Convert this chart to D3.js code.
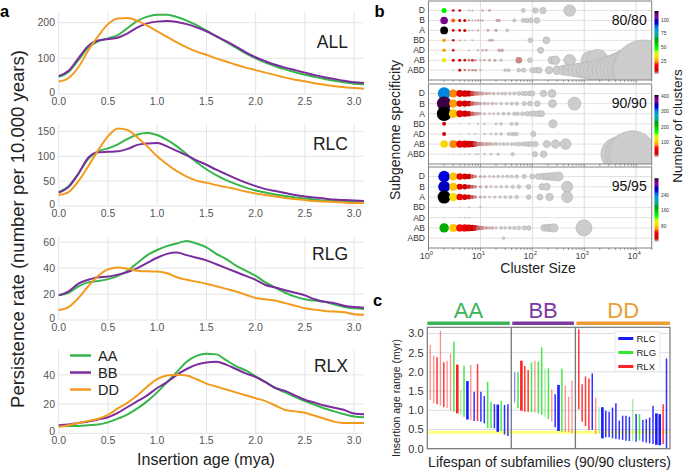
<!DOCTYPE html>
<html><head><meta charset="utf-8">
<script src="https://cdn.jsdelivr.net/npm/d3@7"></script>
<style>body{margin:0;background:#fff}svg{font-family:"Liberation Sans",Arial,sans-serif}</style>
</head><body><svg id="c" width="685" height="472"></svg>
<script>
// ---------------- DATA: panel a ----------------
const ages = [0,0.1,0.2,0.3,0.4,0.5,0.6,0.7,0.8,0.9,1.0,1.1,1.2,1.3,1.4,1.5,1.6,1.7,1.8,1.9,2.0,2.1,2.2,2.3,2.4,2.5,2.6,2.7,2.8,2.9,3.0,3.1];
const genomes = ["AA","BB","DD"];
const families = ["ALL","RLC","RLG","RLX"];
const allAA = [48,62,95,130,148,156,165,185,205,217,222,222,216,206,193,178,162,146,130,114,100,88,78,69,61,54,48,42,37,33,29,27];
const allBB = [50,65,100,135,150,154,158,170,187,198,203,205,202,196,187,176,162,148,133,117,103,92,82,74,67,60,53,47,42,37,33,31];
const allDD = [35,45,75,122,162,196,212,213,205,192,176,160,145,131,119,110,100,91,82,74,67,60,53,46,40,36,30,26,22,19,17,15];
const rlcAA = [28,40,65,95,110,116,124,135,144,147,143,133,120,104,88,74,62,52,44,37,31,27,23,20,17,15,13,11,10,9,8,8];
const rlcBB = [27,38,65,97,108,109,110,115,123,126,127,120,111,102,92,83,73,64,55,47,40,34,30,26,22,19,17,15,13,12,11,10];
const rlcDD = [22,28,50,80,112,140,156,153,138,120,100,84,70,59,51,47,42,38,34,29,25,22,19,16,14,12,10,9,8,7,6,6];
const rlgAA = [19,21,26,29,30,31.5,34,38,44,50,54,57,59,61,59,56,51,47,42,38,34,29,25,21,18,16,15,14,12,10,9,8.5];
const rlgBB = [19,22,28,31,33,33.5,35,37,40,44,48,51,52,50,48,46,43,40,37,34,31,27,25,23,21,19,16,14,13,11,10,9.5];
const rlgDD = [7.7,10,17,26,34,39,40.5,39.5,38,37.5,37.4,36,33,31,29.5,28,26,24,22,19.5,17,16,15,13,11,9,8,7,6.5,6,4.5,4];
const rlxAA = [5,5,5,5.5,6,7.5,10,13,17,22,28,35,42,49,53,54.5,54,50,46,43,39,35,31,28,25,22,19.5,17,15,13,11.5,11];
const rlxBB = [5.5,6,7,8,9.5,11,14,18,22,26,31,35,40,44,47,48.5,49,47,44,41,38.5,35,31,29,26,23,21,19,17.5,16,13.5,13];
const rlxDD = [4.5,5.5,7,8.5,10,12.6,17,21,26,32,37,39.5,40,39.5,37,34,32,30,28,26,24,22,19,16,15,14,12,10,8,7,7,7];
const xTicksA = [0,0.5,1.0,1.5,2.0,2.5,3.0];
const ticksALL = [0,100,200], ticksRLC = [0,50,100,150], ticksRLG = [0,20,40,60], ticksRLX = [0,20,40];
const ymaxA = [230,165,64,57];

// ---------------- DATA: panel b ----------------
const rows = ["D","B","A","BD","AD","AB","ABD"];
const identities = ["80/80","90/90","95/95"];
const cmax = [117,410,325];
const cbTicks80 = [25,50,75,100], cbTicks90 = [100,200,300,400], cbTicks95 = [80,160,240];
const sizeTicks = [1,10,100,1000,10000];
// [cluster size, number of clusters]
const b80D = [[2,50],[3,9],[4,7],[6,2],[7,2],[11,2],[15,2],[67,1],[115,1],[160,1],[525,1]];
const b80B = [[2,110],[3,22],[4,9],[5,7],[6,3],[7,2],[8,2],[9,2],[10,2],[11,2],[21,2],[23,2],[45,1],[67,1],[79,1],[94,1],[123,1]];
const b80A = [[2,117],[3,10],[4,8],[5,7],[6,2],[7,2],[9,2],[14,2],[20,2],[33,1]];
const b80BD = [[2,25],[3,8],[4,3],[5,2],[7,2],[15,2],[17,2],[92,1],[187,1]];
const b80AD = [[2,25],[3,8],[6,2],[9,2],[11,2],[13,2],[23,2],[26,2],[145,1]];
const b80AB = [[2,35],[3,12],[4,10],[5,6],[6,4],[7,5],[8,3],[10,2],[12,2],[15,2],[19,2],[25,1],[55,3],[90,1],[240,1],[280,1],[525,1],[1320,1],[1800,1]];
const b80ABD = [[3,2],[4,8],[5,4],[6,3],[7,3],[8,3],[10,2],[30,1],[35,1],[55,1],[68,1],[100,1],[118,1],[135,1],[210,1],[300,1],[400,1],[500,1],[650,1],[800,1],[1000,1],[1200,1],[1500,1],[1900,1],[2500,1],[3200,1],[4200,1],[5500,1],[7500,1],[11000,1],[14000,1]];
const b90D = [[2,300],[3,80],[4,45],[5,35],[6,25],[7,15],[8,10],[9,8],[10,6],[11,5],[13,4],[15,3],[18,3],[22,2],[26,2],[30,2],[37,1],[45,1],[55,1],[65,1],[75,1],[90,1],[100,1],[165,1],[240,1]];
const b90B = [[2,400],[3,85],[4,40],[5,30],[6,20],[7,12],[8,8],[9,6],[10,5],[12,4],[14,3],[17,3],[20,2],[25,2],[32,1],[40,1],[50,1],[70,1],[90,1],[125,1],[245,1],[650,1]];
const b90A = [[2,410],[3,100],[4,45],[5,30],[6,20],[7,12],[8,8],[9,6],[10,4],[12,3],[15,2],[18,2],[22,2],[28,2],[35,1],[45,1],[52,1],[65,1],[80,1],[95,1],[110,1],[130,1],[150,1]];
const b90BD = [[2,30],[4,2],[6,2],[9,2],[12,1],[20,1],[25,1],[40,1],[50,1],[250,1]];
const b90AD = [[2,30],[4,2],[6,2],[8,2],[12,2],[16,1],[20,1],[25,1],[35,1],[40,1],[45,1],[50,1],[105,1]];
const b90AB = [[2,110],[3,80],[4,50],[5,40],[6,30],[7,22],[8,15],[9,10],[10,8],[11,6],[13,5],[15,4],[17,3],[20,3],[24,2],[28,2],[33,1],[40,1],[47,1],[55,1],[65,1],[75,1],[85,1],[95,1],[115,1],[190,1],[280,1],[440,1]];
const b90ABD = [[3,2],[4,2],[5,2],[6,2],[8,2],[9,2],[12,1],[16,1],[22,1],[42,1],[112,1],[165,1],[4500,1],[6500,1],[8500,1]];
const b95D = [[2,260],[3,80],[4,40],[5,28],[6,18],[7,10],[8,6],[10,4],[12,3],[15,2],[18,2],[22,2],[27,1],[33,1],[40,1],[50,1],[70,1],[100,1],[130,1],[160,1],[190,1],[220,1],[260,1],[320,1]];
const b95B = [[2,270],[3,80],[4,35],[5,22],[6,14],[7,9],[8,6],[10,4],[13,3],[16,2],[20,2],[25,1],[32,1],[42,1],[55,1],[85,1],[155,1],[190,1],[470,1]];
const b95A = [[2,325],[3,90],[4,40],[5,26],[6,16],[7,10],[8,6],[10,4],[12,3],[15,2],[19,2],[24,1],[30,1],[38,1],[50,1],[85,1],[140,1],[215,1],[470,1]];
const b95BD = [[4,2],[6,1],[10,1]];
const b95AD = [[2,3],[4,2],[5,2],[6,1]];
const b95AB = [[2,170],[3,80],[4,50],[5,40],[6,30],[7,22],[8,15],[9,10],[10,8],[11,6],[13,4],[15,3],[17,3],[20,2],[25,2],[30,1],[37,1],[45,1],[55,1],[70,1],[85,1],[170,1],[200,1],[230,1],[260,1],[990,1]];
const b95ABD = [[28,1]];

// ---------------- DATA: panel c ----------------
const groupsC = ["AA","BB","DD"];
const typesC = ["RLC","RLG","RLX"];
const yTicksC = [0,0.5,1.0,1.5,2.0,2.5,3.0];
const threshold = 0.43;
// [superfamily, lowest age, highest age, support (1 low, 2 mid, 3 high)]
const barsAA = [["RLX",1.27,2.70,1],["RLX",1.18,2.42,1],["RLX",1.16,2.38,2],["RLX",1.12,3.07,1],["RLX",1.08,2.25,2],["RLX",1.05,2.29,1],["RLX",0.99,2.48,1],["RLG",0.96,2.79,2],["RLX",0.92,2.19,3],["RLG",0.88,1.53,1],["RLG",0.83,2.16,2],["RLC",0.76,1.76,3],["RLX",0.75,2.18,1],["RLC",0.72,1.48,2],["RLX",0.72,2.20,2],["RLC",0.70,1.48,2],["RLC",0.66,1.37,2],["RLG",0.54,1.74,2],["RLG",0.53,1.22,2],["RLC",0.53,1.16,2],["RLC",0.44,1.15,3],["RLG",0.46,1.25,2],["RLC",0.37,1.14,2],["RLC",0.33,1.16,2]];
const barsBB = [["RLC",1.20,1.99,1],["RLG",1.05,1.99,2],["RLX",0.99,2.29,3],["RLX",0.96,2.15,2],["RLX",0.96,2.05,2],["RLG",0.95,2.25,2],["RLX",0.94,2.29,1],["RLG",0.92,2.27,2],["RLG",0.88,2.64,2],["RLG",0.83,2.08,1],["RLG",0.77,2.09,2],["RLX",0.70,1.55,1],["RLC",0.56,1.42,2],["RLC",0.46,1.66,3],["RLG",0.44,2.08,2],["RLX",0.43,1.64,1],["RLX",0.43,1.35,1],["RLX",0.40,1.77,1]];
const barsDD = [["RLX",1.03,3.11,2],["RLX",0.70,1.68,2],["RLX",0.59,1.88,2],["RLX",0.49,1.83,2],["RLC",0.49,1.96,2],["RLX",0.38,1.33,1],["RLG",0.40,1.08,1],["RLC",0.27,1.08,3],["RLC",0.30,0.99,2],["RLC",0.30,0.96,2],["RLC",0.27,1.07,2],["RLC",0.25,1.18,2],["RLC",0.24,0.73,2],["RLC",0.23,0.86,2],["RLC",0.21,0.86,2],["RLC",0.20,0.83,2],["RLG",0.20,1.29,1],["RLC",0.18,0.90,2],["RLG",0.21,0.90,2],["RLC",0.18,0.75,2],["RLC",0.16,0.77,2],["RLC",0.14,0.81,2],["RLC",0.12,1.12,2],["RLC",0.10,0.92,3],["RLC",0.09,0.90,3],["RLX",0.12,1.16,2],["RLC",0.01,2.35,2]];

// ---------------- STYLE ----------------
const genomeColor = d3.scaleOrdinal().domain(genomes).range(["#35b54a","#7a2c9e","#f29b1f"]);
const typeColor = d3.scaleOrdinal().domain(typesC).range(["#1a1aff","#33e633","#ff2222"]);
const headColor = d3.scaleOrdinal().domain(groupsC).range(["#3cb55a","#7d3aa3","#eb9c33"]);
const nsStops = ["#000000","#770088","#880099","#0000aa","#0000dd","#0077dd","#0099dd","#00aaaa","#00aa88","#009900","#00bb00","#00dd00","#00ff00","#bbff00","#eeee00","#ffcc00","#ff9900","#ff0000","#dd0000","#cc0000","#cccccc"];
const nipy = d3.scaleLinear().domain(d3.range(21).map(i => i/20)).range(nsStops).clamp(true);

const svg = d3.select("#c");
const tickCol = "#555", gridCol = "#e4e4e4";

// ================= PANEL a =================
const seriesA = [[allAA,allBB,allDD],[rlcAA,rlcBB,rlcDD],[rlgAA,rlgBB,rlgDD],[rlxAA,rlxBB,rlxDD]];
const ticksA = [ticksALL,ticksRLC,ticksRLG,ticksRLX];
const aTop = [12,124,237,350], aBot = [94,206,320,433.3], aLab = [47.7,150,260,371.7];
const xA = d3.scaleLinear().domain([0,3.09]).range([58.7,363]);
families.forEach((fam, i) => {
  const y = d3.scaleLinear().domain([0, ymaxA[i]]).range([aBot[i], aTop[i]]);
  const g = svg.append("g");
  g.selectAll(".vg").data(xTicksA).join("line")
    .attr("x1", d => xA(d)).attr("x2", d => xA(d)).attr("y1", aTop[i]).attr("y2", aBot[i])
    .attr("stroke", gridCol).attr("stroke-width", 1);
  g.selectAll(".hg").data(ticksA[i]).join("line")
    .attr("x1", xA.range()[0]).attr("x2", xA.range()[1]).attr("y1", d => y(d)).attr("y2", d => y(d))
    .attr("stroke", gridCol).attr("stroke-width", 1);
  g.selectAll(".yl").data(ticksA[i]).join("text")
    .attr("x", 55).attr("y", d => y(d) - (d === 0 ? 1.5 : 0)).attr("dy", "0.35em").attr("text-anchor", "end")
    .attr("font-size", 10.5).attr("fill", tickCol).text(d => d);
  g.selectAll(".xl").data(xTicksA).join("text")
    .attr("x", d => xA(d)).attr("y", aBot[i] + 10.5).attr("text-anchor", "middle")
    .attr("font-size", 10.5).attr("fill", tickCol).text(d => d.toFixed(1));
  const line = d3.line().x((d, k) => xA(ages[k])).y(d => y(d)).curve(d3.curveMonotoneX);
  seriesA[i].forEach((s, j) => {
    g.append("path").attr("d", line(s)).attr("fill", "none")
      .attr("stroke", genomeColor(genomes[j])).attr("stroke-width", 2);
  });
  g.append("text").attr("x", 348).attr("y", aLab[i]).attr("text-anchor", "end")
    .attr("font-size", 17.5).attr("fill", "#222").text(fam);
});
// legend a
genomes.forEach((gname, j) => {
  const yy = 355.5 + j * 17;
  svg.append("line").attr("x1", 70).attr("x2", 91).attr("y1", yy).attr("y2", yy)
    .attr("stroke", genomeColor(gname)).attr("stroke-width", 2.5);
  svg.append("text").attr("x", 98).attr("y", yy + 5).attr("font-size", 14.5).attr("fill", "#222").text(gname);
});
svg.append("text").attr("transform", "translate(24,229) rotate(-90)").attr("text-anchor", "middle")
  .attr("font-size", 18.5).attr("fill", "#222").text("Persistence rate (number per 10.000 years)");
svg.append("text").attr("x", 206).attr("y", 465).attr("text-anchor", "middle")
  .attr("font-size", 16).attr("fill", "#222").text("Insertion age (mya)");
svg.append("text").attr("x", 0).attr("y", 17.3).attr("font-size", 16.5).attr("font-weight", "bold").text("a");

// ================= PANEL b =================
const bData = [[b80D,b80B,b80A,b80BD,b80AD,b80AB,b80ABD],[b90D,b90B,b90A,b90BD,b90AD,b90AB,b90ABD],[b95D,b95B,b95A,b95BD,b95AD,b95AB,b95ABD]];
const cbTicks = [cbTicks80, cbTicks90, cbTicks95];
const bTop = [1,84,167], bBot = [80,164,248];
const cbTop = [11,95,178.3], cbBot = [74,157,241.7];
const xB = d3.scaleLog().domain([1,20000]).range([428.5,651.7]);
const rB = d3.scaleSqrt().domain([0,10000]).range([0,25.5]);
const defs = svg.append("defs");
const grad = defs.append("linearGradient").attr("id","cbgrad").attr("x1",0).attr("y1",0).attr("x2",0).attr("y2",1);
d3.range(41).forEach(k => grad.append("stop").attr("offset", k/40).attr("stop-color", nipy(k/40)));
const minorTicks = [];
[1,10,100,1000,10000].forEach(dec => [1,2,3,4,5,6,7,8,9].forEach(m => { if (dec*m <= 20000) minorTicks.push(dec*m); }));

identities.forEach((idn, p) => {
  const top = bTop[p], bot = bBot[p];
  const yR = d3.scalePoint().domain(rows).range([top + 9.5, bot - 9.8]);
  const g = svg.append("g");
  defs.append("clipPath").attr("id", "clipb" + p).append("rect")
    .attr("x", xB.range()[0]).attr("y", top).attr("width", xB.range()[1] - xB.range()[0]).attr("height", bot - top);
  g.selectAll(".vg").data(sizeTicks.slice(1)).join("line")
    .attr("x1", d => xB(d)).attr("x2", d => xB(d)).attr("y1", top).attr("y2", bot)
    .attr("stroke", "#dcdcdc").attr("stroke-width", 1);
  g.selectAll(".hg").data(rows).join("line")
    .attr("x1", xB.range()[0]).attr("x2", xB.range()[1]).attr("y1", d => yR(d)).attr("y2", d => yR(d))
    .attr("stroke", "#e2e2e2").attr("stroke-width", 1);
  g.selectAll(".rl").data(rows).join("text")
    .attr("x", 425).attr("y", d => yR(d)).attr("dy", "0.35em").attr("text-anchor", "end")
    .attr("font-size", 8.5).attr("fill", "#333").text(d => d);
  const cg = g.append("g").attr("clip-path", "url(#clipb" + p + ")");
  rows.forEach((r, ri) => {
    cg.selectAll(null).data(bData[p][ri]).join("circle")
      .attr("cx", d => xB(d[0])).attr("cy", yR(r))
      .attr("r", d => rB(d[0] * d[1]))
      .attr("fill", d => nipy(1 - (d[1] - 1) / (cmax[p] - 1)))
      .attr("stroke", d => d[1] === 1 ? "#b3b3b3" : "none").attr("stroke-width", 0.6);
  });
  g.append("rect").attr("x", xB.range()[0]).attr("y", top).attr("width", xB.range()[1] - xB.range()[0])
    .attr("height", bot - top).attr("fill", "none").attr("stroke", "#808080").attr("stroke-width", 1);
  // minor ticks
  g.selectAll(".mt").data(minorTicks).join("line")
    .attr("x1", d => xB(d)).attr("x2", d => xB(d)).attr("y1", bot).attr("y2", d => bot + (sizeTicks.includes(d) ? 3 : 1.8))
    .attr("stroke", "#666").attr("stroke-width", 0.7);
  g.append("text").attr("x", 646.7).attr("y", top + 23.5).attr("text-anchor", "end")
    .attr("font-size", 14).attr("fill", "#111").text(idn);
  // colorbar
  const cb = d3.scaleLinear().domain([1, cmax[p]]).range([cbBot[p], cbTop[p]]);
  g.append("rect").attr("x", 654.5).attr("y", cbTop[p]).attr("width", 4).attr("height", cbBot[p] - cbTop[p])
    .attr("fill", "url(#cbgrad)");
  g.selectAll(".cbt").data(cbTicks[p]).join("text")
    .attr("x", 661).attr("y", d => cb(d)).attr("dy", "0.35em").attr("font-size", 4.8).attr("fill", "#333").text(d => d);
});
// x tick labels b
const tl = svg.append("g");
sizeTicks.forEach((d, k) => {
  const t = tl.append("text").attr("x", xB(d) - 2).attr("y", 259).attr("text-anchor", "middle")
    .attr("font-size", 9).attr("fill", "#444");
  t.append("tspan").text("10");
  t.append("tspan").attr("dy", -4).attr("font-size", 6).text(String(Math.log10(d)));
});
svg.append("text").attr("x", 538).attr("y", 272.5).attr("text-anchor", "middle")
  .attr("font-size", 14).attr("fill", "#222").text("Cluster Size");
svg.append("text").attr("transform", "translate(400,130) rotate(-90)").attr("text-anchor", "middle")
  .attr("font-size", 14).attr("fill", "#222").text("Subgenome specificity");
svg.append("text").attr("transform", "translate(681.5,126) rotate(-90)").attr("text-anchor", "middle")
  .attr("font-size", 13.5).attr("fill", "#222").text("Number of clusters");
svg.append("text").attr("x", 374.5).attr("y", 17.3).attr("font-size", 16.5).attr("font-weight", "bold").text("b");

// ================= PANEL c =================
const groupBars = [barsAA, barsBB, barsDD];
const barsC = [], dividers = [];
let slot = 0;
groupBars.forEach((gb, gi) => {
  if (gi > 0) { dividers.push(slot); slot++; }
  gb.forEach(b => { barsC.push({type: b[0], lo: b[1], hi: b[2], sup: b[3], slot: slot}); slot++; });
});
const cLeft = 427.3, cRight = 670, cTop = 327.3;
const xC = d3.scaleLinear().domain([0, slot - 1]).range([430.3, 666.5]);
const yC = d3.scaleLinear().domain([0, 3.16]).range([448.7, cTop]);
const wC = d3.scaleOrdinal().domain([1,2,3]).range([1.3,1.5,2.6]);
const oC = d3.scaleOrdinal().domain([1,2,3]).range([0.5,0.9,1]);
const gc = svg.append("g");
gc.selectAll(".hg").data(yTicksC).join("line")
  .attr("x1", cLeft).attr("x2", cRight).attr("y1", d => yC(d)).attr("y2", d => yC(d))
  .attr("stroke", "#dcdce6").attr("stroke-width", 1);
gc.selectAll(".yl").data(yTicksC).join("text")
  .attr("x", 423.5).attr("y", d => yC(d)).attr("dy", "0.35em").attr("text-anchor", "end")
  .attr("font-size", 11).attr("fill", "#333").text(d => d.toFixed(1));
gc.append("line").attr("x1", cLeft).attr("x2", cRight).attr("y1", yC(threshold)).attr("y2", yC(threshold))
  .attr("stroke", "#ffff66").attr("stroke-width", 3).attr("opacity", 0.85);
gc.selectAll(".bar").data(barsC).join("line")
  .attr("x1", d => xC(d.slot)).attr("x2", d => xC(d.slot))
  .attr("y1", d => yC(d.lo)).attr("y2", d => yC(d.hi))
  .attr("stroke", d => typeColor(d.type)).attr("stroke-width", d => wC(d.sup)).attr("stroke-opacity", d => oC(d.sup));
gc.selectAll(".div").data(dividers).join("line")
  .attr("x1", d => xC(d)).attr("x2", d => xC(d)).attr("y1", cTop).attr("y2", yC(0))
  .attr("stroke", "#777").attr("stroke-width", 1.3);
gc.append("rect").attr("x", cLeft).attr("y", cTop).attr("width", cRight - cLeft).attr("height", yC(0) - cTop)
  .attr("fill", "none").attr("stroke", "#777").attr("stroke-width", 1.2);
// group headers
groupsC.forEach((gname, gi) => {
  const x0 = gi === 0 ? cLeft : xC(dividers[gi - 1]) + 1;
  const x1 = gi === groupsC.length - 1 ? cRight : xC(dividers[gi]) - 1.5;
  gc.append("rect").attr("x", x0).attr("y", 321.5).attr("width", x1 - x0).attr("height", 3.5)
    .attr("fill", headColor(gname));
  gc.append("text").attr("x", (x0 + x1) / 2).attr("y", 318.3).attr("text-anchor", "middle")
    .attr("font-size", 22).attr("fill", headColor(gname)).text(gname);
});
// legend c
gc.append("rect").attr("x", 615).attr("y", 331.5).attr("width", 45).attr("height", 40)
  .attr("fill", "#fff").attr("fill-opacity", 0.9).attr("stroke", "#e4e4e4").attr("stroke-width", 0.8);
typesC.forEach((t, k) => {
  const yy = 338.5 + k * 14;
  gc.append("line").attr("x1", 618.3).attr("x2", 633.3).attr("y1", yy).attr("y2", yy)
    .attr("stroke", typeColor(t)).attr("stroke-width", 3);
  gc.append("text").attr("x", 636.5).attr("y", yy).attr("dy", "0.35em").attr("font-size", 9.5).attr("fill", "#222").text(t);
});
svg.append("text").attr("transform", "translate(400,398) rotate(-90)").attr("text-anchor", "middle")
  .attr("font-size", 10.5).attr("fill", "#222").text("Insertion age range (myr)");
svg.append("text").attr("x", 549.5).attr("y", 467).attr("text-anchor", "middle")
  .attr("font-size", 14).attr("fill", "#222").text("Lifespan of subfamilies (90/90 clusters)");
svg.append("text").attr("x", 373).attr("y", 306).attr("font-size", 16.5).attr("font-weight", "bold").text("c");
</script></body></html>
